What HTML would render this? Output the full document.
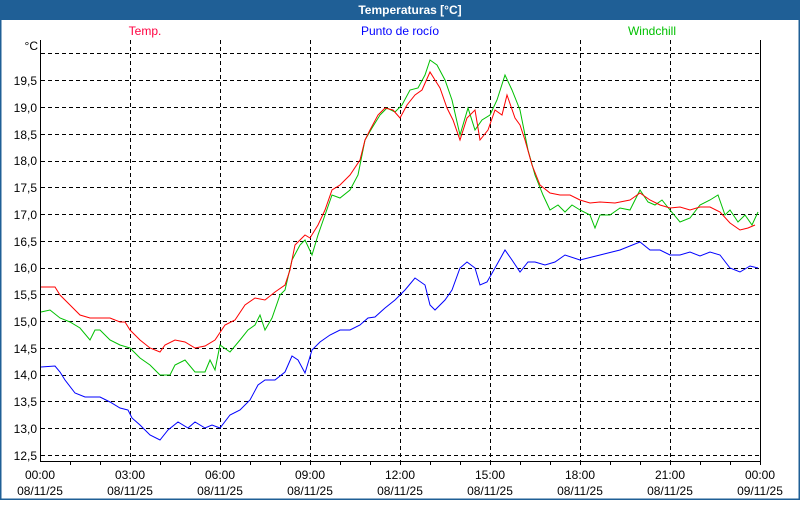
<!DOCTYPE html>
<html><head><meta charset="utf-8"><style>
body{margin:0;width:800px;height:500px;overflow:hidden;background:#fff}
svg text{font-family:"Liberation Sans",sans-serif;font-size:12px}
</style></head><body>
<svg width="800" height="500" xmlns="http://www.w3.org/2000/svg">
<rect x="0" y="0" width="800" height="500" fill="#fff"/>
<rect x="0.5" y="0.5" width="799" height="499" fill="none" stroke="#1f5f96" stroke-width="2"/>
<rect x="0" y="0" width="800" height="20" fill="#1f5f96"/>
<text x="410" y="14" text-anchor="middle" fill="#fff" font-weight="bold">Temperaturas [°C]</text>
<text x="145" y="35" text-anchor="middle" fill="#ff0040">Temp.</text>
<text x="400" y="35" text-anchor="middle" fill="#0000ff">Punto de rocío</text>
<text x="652" y="35" text-anchor="middle" fill="#00c000">Windchill</text>
<g stroke="#000" stroke-dasharray="4,3" stroke-width="1">
<line x1="41" y1="53.5" x2="760" y2="53.5"/><line x1="41" y1="80.5" x2="760" y2="80.5"/><line x1="41" y1="107.5" x2="760" y2="107.5"/><line x1="41" y1="134.5" x2="760" y2="134.5"/><line x1="41" y1="161.5" x2="760" y2="161.5"/><line x1="41" y1="187.5" x2="760" y2="187.5"/><line x1="41" y1="214.5" x2="760" y2="214.5"/><line x1="41" y1="241.5" x2="760" y2="241.5"/><line x1="41" y1="268.5" x2="760" y2="268.5"/><line x1="41" y1="294.5" x2="760" y2="294.5"/><line x1="41" y1="321.5" x2="760" y2="321.5"/><line x1="41" y1="348.5" x2="760" y2="348.5"/><line x1="41" y1="375.5" x2="760" y2="375.5"/><line x1="41" y1="401.5" x2="760" y2="401.5"/><line x1="41" y1="428.5" x2="760" y2="428.5"/><line x1="41" y1="455.5" x2="760" y2="455.5"/>
<line x1="130.5" y1="40" x2="130.5" y2="461"/><line x1="220.5" y1="40" x2="220.5" y2="461"/><line x1="310.5" y1="40" x2="310.5" y2="461"/><line x1="400.5" y1="40" x2="400.5" y2="461"/><line x1="490.5" y1="40" x2="490.5" y2="461"/><line x1="580.5" y1="40" x2="580.5" y2="461"/><line x1="670.5" y1="40" x2="670.5" y2="461"/>
</g>
<polyline fill="none" stroke="#000" stroke-width="1" points="40.5,40 40.5,461.5 760.5,461.5 760.5,40"/>
<g stroke="#000"><line x1="70.5" y1="461" x2="70.5" y2="465"/><line x1="100.5" y1="461" x2="100.5" y2="465"/><line x1="130.5" y1="461" x2="130.5" y2="465"/><line x1="160.5" y1="461" x2="160.5" y2="465"/><line x1="190.5" y1="461" x2="190.5" y2="465"/><line x1="220.5" y1="461" x2="220.5" y2="465"/><line x1="250.5" y1="461" x2="250.5" y2="465"/><line x1="280.5" y1="461" x2="280.5" y2="465"/><line x1="310.5" y1="461" x2="310.5" y2="465"/><line x1="340.5" y1="461" x2="340.5" y2="465"/><line x1="370.5" y1="461" x2="370.5" y2="465"/><line x1="400.5" y1="461" x2="400.5" y2="465"/><line x1="430.5" y1="461" x2="430.5" y2="465"/><line x1="460.5" y1="461" x2="460.5" y2="465"/><line x1="490.5" y1="461" x2="490.5" y2="465"/><line x1="520.5" y1="461" x2="520.5" y2="465"/><line x1="550.5" y1="461" x2="550.5" y2="465"/><line x1="580.5" y1="461" x2="580.5" y2="465"/><line x1="610.5" y1="461" x2="610.5" y2="465"/><line x1="640.5" y1="461" x2="640.5" y2="465"/><line x1="670.5" y1="461" x2="670.5" y2="465"/><line x1="700.5" y1="461" x2="700.5" y2="465"/><line x1="730.5" y1="461" x2="730.5" y2="465"/><line x1="760.5" y1="461" x2="760.5" y2="465"/></g>
<g text-anchor="end" fill="#000">
<text x="38" y="50">°C</text>
<text x="37" y="85">19,5</text><text x="37" y="112">19,0</text><text x="37" y="139">18,5</text><text x="37" y="165">18,0</text><text x="37" y="192">17,5</text><text x="37" y="219">17,0</text><text x="37" y="246">16,5</text><text x="37" y="272">16,0</text><text x="37" y="299">15,5</text><text x="37" y="326">15,0</text><text x="37" y="353">14,5</text><text x="37" y="379">14,0</text><text x="37" y="406">13,5</text><text x="37" y="433">13,0</text><text x="37" y="460">12,5</text>
</g>
<g text-anchor="middle" fill="#000">
<text x="40" y="479">00:00</text><text x="40" y="495">08/11/25</text>
<text x="130" y="479">03:00</text><text x="130" y="495">08/11/25</text>
<text x="220" y="479">06:00</text><text x="220" y="495">08/11/25</text>
<text x="310" y="479">09:00</text><text x="310" y="495">08/11/25</text>
<text x="400" y="479">12:00</text><text x="400" y="495">08/11/25</text>
<text x="490" y="479">15:00</text><text x="490" y="495">08/11/25</text>
<text x="580" y="479">18:00</text><text x="580" y="495">08/11/25</text>
<text x="670" y="479">21:00</text><text x="670" y="495">08/11/25</text>
<text x="760" y="479">00:00</text><text x="760" y="495">09/11/25</text>
</g>
<polyline fill="none" stroke="#0000ff" points="41,367 55,366 60,372 65,380 75,393 85,397 100,397 110,402 120,408 128,410 132,418 140,425 150,435 160,440 168,430 178,422 188,428 195,422 205,428 212,425 220,428 230,415 240,410 250,400 258,385 265,380 275,380 285,372 292,356 298,360 305,373 312,350 320,342 330,335 340,330 350,330 360,325 368,318 375,317 385,308 395,300 405,290 415,278 425,285 430,305 435,310 445,300 452,290 460,268 467,262 475,268 480,285 487,282 495,268 505,250 512,260 520,272 528,262 535,262 545,265 555,262 565,255 580,260 600,255 620,250 640,242 650,250 660,250 670,255 680,255 690,252 700,256 710,252 720,255 730,268 740,272 750,266 758,268"/>
<polyline fill="none" stroke="#00c000" points="41,312 50,310 60,318 70,322 80,328 90,340 95,330 100,330 110,340 120,345 130,348 140,358 150,365 160,375 170,375 175,365 185,360 195,372 205,372 210,360 215,370 220,345 230,352 240,340 248,330 255,325 260,315 265,330 272,318 280,295 285,290 292,260 300,245 305,240 312,255 318,235 325,215 332,195 340,198 350,190 358,175 365,140 372,128 380,115 387,108 395,112 402,105 410,90 418,88 425,75 430,60 437,65 445,80 452,100 460,135 468,108 475,130 482,120 490,115 497,100 505,75 512,90 520,110 528,150 535,175 543,195 550,210 558,205 565,212 572,205 580,210 590,215 595,228 600,215 610,215 620,208 630,210 640,190 648,202 655,205 662,200 670,210 680,222 690,218 700,205 710,200 718,195 725,215 730,210 738,222 745,215 752,225 758,212"/>
<polyline fill="none" stroke="#ff0000" points="41,287 55,287 60,295 70,305 80,315 90,318 100,318 110,318 120,322 125,322 130,330 140,340 150,348 160,352 165,345 175,340 185,342 195,348 205,346 215,340 225,325 235,320 245,305 255,298 265,300 275,292 285,285 290,270 295,245 300,240 305,235 310,238 318,225 325,210 332,190 340,185 350,175 360,160 365,140 370,130 378,115 385,108 393,110 400,118 407,105 415,95 422,90 430,72 435,80 440,88 447,108 453,120 460,140 467,118 475,110 480,140 488,130 495,110 502,115 507,95 515,118 520,125 525,140 532,165 540,185 550,193 560,195 570,195 580,200 590,203 600,202 615,203 630,200 640,193 650,200 660,205 670,208 680,207 690,210 700,207 710,207 720,212 730,223 740,230 748,228 755,225"/>
</svg>
</body></html>
